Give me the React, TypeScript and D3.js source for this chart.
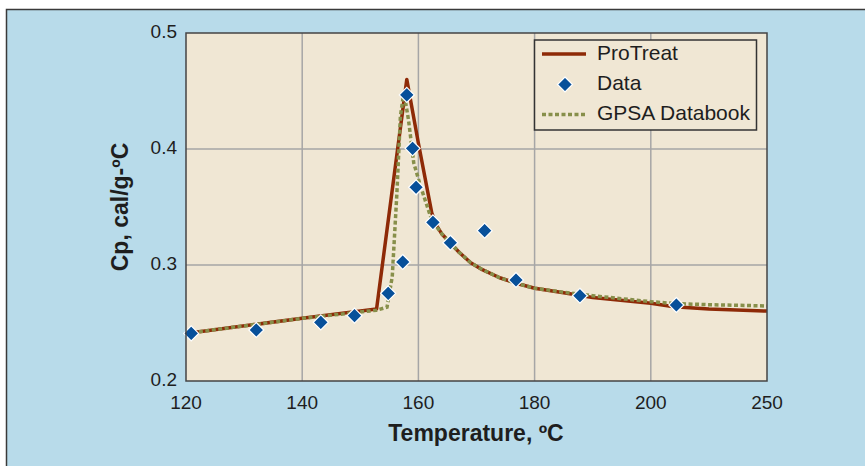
import React from 'react';
import * as d3 from 'd3';

// Cp vs temperature
const proTreatT = [120, 140, 152.8, 158, 160, 162.3, 163, 164, 165.5, 167, 169, 171, 174, 177, 180, 185, 190, 200, 210, 225, 250];
const proTreatCp = [0.241, 0.254, 0.262, 0.46, 0.405, 0.345, 0.335, 0.327, 0.319, 0.311, 0.302, 0.296, 0.289, 0.284, 0.28, 0.276, 0.272, 0.267, 0.264, 0.262, 0.2603];

const gpsaT = [120, 140, 152.8, 154.6, 155.5, 156.3, 156.9, 157.5, 158.3, 159.2, 160.3, 162.1, 163, 164, 165.5, 167, 169, 171, 174, 177, 180, 185, 190, 200, 210, 225, 250];
const gpsaCp = [0.241, 0.254, 0.261, 0.2636, 0.29, 0.362, 0.428, 0.449, 0.425, 0.388, 0.369, 0.3417, 0.334, 0.327, 0.319, 0.311, 0.302, 0.296, 0.289, 0.284, 0.28, 0.2765, 0.2735, 0.2684, 0.2668, 0.2658, 0.2647];

const dataT = [120.9, 132.1, 143.2, 149, 154.8, 157.3, 158, 159, 159.6, 162.5, 165.5, 171.4, 176.8, 187.8, 211];
const dataCp = [0.241, 0.244, 0.2506, 0.2563, 0.2756, 0.3026, 0.4466, 0.4006, 0.367, 0.3368, 0.3192, 0.3296, 0.2871, 0.2735, 0.2655];

const xTicks = [120, 140, 160, 180, 200, 250];
const yTicks = [0.2, 0.3, 0.4, 0.5];
const legendLabels = ['ProTreat', 'Data', 'GPSA Databook'];

const W = 865;
const H = 466;
const plot = { left: 186, right: 767, top: 33, bottom: 381 };

const FONT = '"Liberation Sans", Arial, Helvetica, sans-serif';
const RED = '#8e2a07';
const BLUE = '#07509a';
const OLIVE = '#878f4a';
const INK = '#1e1e1e';

const App = () => {
  // evenly spaced x ticks although the last step is 50 degrees
  const x = d3.scaleLinear()
    .domain(xTicks)
    .range(xTicks.map((_, i) => plot.left + (i * (plot.right - plot.left)) / (xTicks.length - 1)));
  const y = d3.scaleLinear().domain([0.2, 0.5]).range([plot.bottom, plot.top]);

  const line = d3.line<[number, number]>()
    .x(d => x(d[0]))
    .y(d => y(d[1]));

  const proPts = proTreatT.map((t, i) => [t, proTreatCp[i]] as [number, number]);
  const gpsaPts = gpsaT.map((t, i) => [t, gpsaCp[i]] as [number, number]);

  const diamond = (cx: number, cy: number, r = 7.5) =>
    `M${cx},${cy - r}L${cx + r},${cy}L${cx},${cy + r}L${cx - r},${cy}Z`;

  const lg = { x: 534.5, y: 40, w: 222, h: 90 };
  const rowY = [54, 84.5, 114.5];

  return (
    <svg width={W} height={H} style={{ position: 'absolute', left: 0, top: 0 }} fontFamily={FONT}>
      <rect x={0} y={0} width={W} height={H} fill="#ffffff" />
      <rect x={6.5} y={9.5} width={W + 10} height={H} fill="#b8dbea" stroke="#3a3a3a" strokeWidth={1.5} />

      <rect x={plot.left} y={plot.top} width={plot.right - plot.left} height={plot.bottom - plot.top} fill="#f0e7d4" />

      {/* grid */}
      {xTicks.slice(1, -1).map(t => (
        <line key={'gx' + t} x1={x(t)} x2={x(t)} y1={plot.top} y2={plot.bottom} stroke="#a6a6a6" strokeWidth={1.5} />
      ))}
      {yTicks.slice(1, -1).map(t => (
        <line key={'gy' + t} x1={plot.left} x2={plot.right} y1={y(t)} y2={y(t)} stroke="#a6a6a6" strokeWidth={1.5} />
      ))}

      {/* series */}
      <path d={line(proPts) || ''} fill="none" stroke={RED} strokeWidth={3.5} strokeLinejoin="round" />
      <path d={line(gpsaPts) || ''} fill="none" stroke={OLIVE} strokeWidth={3.5} strokeDasharray="4 2.5" />
      {dataT.map((t, i) => (
        <path key={'d' + i} d={diamond(x(t), y(dataCp[i]))} fill={BLUE} stroke="#ffffff" strokeWidth={1.2} />
      ))}

      <rect x={plot.left} y={plot.top} width={plot.right - plot.left} height={plot.bottom - plot.top} fill="none" stroke="#444" strokeWidth={1.5} />

      {/* tick labels */}
      {yTicks.map(t => (
        <text key={'yt' + t} x={177} y={y(t)} textAnchor="end" dominantBaseline="middle" fontSize={19} fill={INK}>
          {d3.format('.1f')(t)}
        </text>
      ))}
      {xTicks.map(t => (
        <text key={'xt' + t} x={x(t)} y={404} textAnchor="middle" dominantBaseline="middle" fontSize={19} fill={INK}>
          {t}
        </text>
      ))}

      {/* axis titles */}
      <text x={476} y={441} textAnchor="middle" fontSize={23} fontWeight="bold" fill={INK}>Temperature, ºC</text>
      <text transform="translate(128,207) rotate(-90)" textAnchor="middle" fontSize={23} fontWeight="bold" fill={INK}>Cp, cal/g-ºC</text>

      {/* legend */}
      <rect x={lg.x} y={lg.y} width={lg.w} height={lg.h} fill="#f0e7d4" stroke="#333" strokeWidth={1.5} />
      <line x1={542} x2={586} y1={rowY[0]} y2={rowY[0]} stroke={RED} strokeWidth={3.5} />
      <path d={diamond(565, rowY[1])} fill={BLUE} stroke="#ffffff" strokeWidth={1.2} />
      <line x1={542} x2={586} y1={rowY[2]} y2={rowY[2]} stroke={OLIVE} strokeWidth={3.5} strokeDasharray="4 2.5" />
      {legendLabels.map((l, i) => (
        <text key={l} x={597} y={rowY[i]} dominantBaseline="middle" fontSize={21} fill={INK}>{l}</text>
      ))}
    </svg>
  );
};

export default App;
